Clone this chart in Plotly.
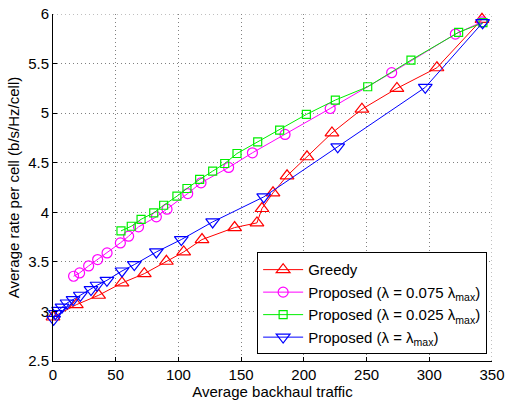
import plotly.graph_objects as go

# Greedy
greedy_x = [0, 18.6, 36.4, 55, 72.8, 90.4, 104.2, 118.8, 144.8, 162.6, 166.6, 175.4, 186.6, 202.5, 222.4, 246.3, 274.2, 306.1, 342]
greedy_y = [2.944, 3.068, 3.163, 3.287, 3.381, 3.506, 3.60, 3.725, 3.846, 3.893, 4.038, 4.196, 4.368, 4.56, 4.80, 5.04, 5.25, 5.458, 5.946]

# Proposed lambda = 0.075 lambda_max
p075_x = [16.4, 21.2, 28.4, 35.6, 43.1, 53.7, 60.3, 68.2, 82.4, 90.9, 107.4, 118, 140, 159, 185, 221, 270, 320.8, 342]
p075_y = [3.355, 3.388, 3.459, 3.523, 3.590, 3.691, 3.759, 3.853, 3.954, 4.031, 4.189, 4.297, 4.452, 4.60, 4.785, 5.047, 5.408, 5.798, 5.92]

# Proposed lambda = 0.025 lambda_max
p025_x = [54.2, 62.4, 70.2, 80.3, 88.2, 98.8, 106.8, 116.9, 127.3, 136.9, 146.7, 163.2, 180.7, 202, 225.1, 250.9, 285.4, 323.4, 342.8]
p025_y = [3.812, 3.859, 3.929, 3.994, 4.071, 4.162, 4.240, 4.331, 4.415, 4.492, 4.593, 4.711, 4.829, 4.987, 5.132, 5.266, 5.535, 5.815, 5.912]

# Proposed lambda = lambda_max
pmax_x = [0.5, 1.9, 4.5, 7.2, 11.2, 16, 21.8, 30.3, 35.1, 43, 55, 64.8, 82.4, 102.3, 127.3, 168, 227, 296.8, 342.5]
pmax_y = [2.92, 2.977, 3.011, 3.044, 3.085, 3.119, 3.163, 3.220, 3.264, 3.314, 3.408, 3.472, 3.600, 3.725, 3.903, 4.155, 4.66, 5.26, 5.912]

x_ticks = [0, 50, 100, 150, 200, 250, 300, 350]
y_ticks = [2.5, 3, 3.5, 4, 4.5, 5, 5.5, 6]
y_tick_text = ["2.5", "3", "3.5", "4", "4.5", "5", "5.5", "6"]

series = [
    ("Greedy", greedy_x, greedy_y, "#FF0000", "triangle-up-open", 12),
    ("Proposed (λ = 0.075 λ<sub>max</sub>)", p075_x, p075_y, "#FF00FF", "circle-open", 10),
    ("Proposed (λ = 0.025 λ<sub>max</sub>)", p025_x, p025_y, "#00EE00", "square-open", 8),
    ("Proposed (λ = λ<sub>max</sub>)", pmax_x, pmax_y, "#0000FF", "triangle-down-open", 12),
]

fig = go.Figure()
for name, xs, ys, col, sym, sz in series:
    fig.add_trace(go.Scatter(
        x=xs, y=ys, name=name, mode="lines+markers", cliponaxis=False,
        line=dict(color=col, width=1),
        marker=dict(symbol=sym, size=sz, color=col, line=dict(color=col, width=1.2)),
    ))

font = "Liberation Sans, Arial, Helvetica, sans-serif"
grid_col = "#808080"
grid_dash = "1px,3px"
grid = dict(showgrid=True, gridcolor=grid_col, griddash=grid_dash, gridwidth=1, zeroline=False)

# dotted grid lines at the far (top/right) edges, which plotly omits
fig.add_shape(type="line", xref="x", yref="paper", x0=x_ticks[-1], x1=x_ticks[-1], y0=0, y1=1,
              line=dict(color=grid_col, width=1, dash=grid_dash), layer="below")
fig.add_shape(type="line", xref="paper", yref="y", x0=0, x1=1, y0=y_ticks[-1], y1=y_ticks[-1],
              line=dict(color=grid_col, width=1, dash=grid_dash), layer="below")

fig.update_layout(
    width=505, height=405,
    margin=dict(l=53, r=13, t=14, b=44, autoexpand=False),
    paper_bgcolor="white", plot_bgcolor="white",
    font=dict(family=font, size=15, color="black"),
    showlegend=True,
    legend=dict(
        x=0.465, y=0.313, xanchor="left", yanchor="top",
        bgcolor="white", bordercolor="black", borderwidth=1,
        font=dict(size=15, family=font), tracegroupgap=0,
        itemwidth=40,
    ),
    xaxis=dict(
        range=[0, 350], tickvals=x_ticks, showline=True, linecolor="black", linewidth=1,
        mirror=False, ticks="inside", ticklen=4, tickcolor="black", automargin=False,
        ticklabeloverflow="allow",
        title=dict(text="Average backhaul traffic", font=dict(size=15), standoff=4),
        tickfont=dict(size=15), **grid,
    ),
    yaxis=dict(
        range=[2.5, 6], tickvals=y_ticks, ticktext=y_tick_text, showline=True, linecolor="black",
        linewidth=1, mirror=False, ticks="inside", ticklen=4, tickcolor="black", automargin=False,
        ticklabeloverflow="allow",
        title=dict(text="Average rate per cell (b/s/Hz/cell)", font=dict(size=15), standoff=4),
        tickfont=dict(size=15), **grid,
    ),
)

# remove the browser's default 8px page margin so the 505x405 figure fills the window
fig.write_html(
    "out.html",
    config={"displayModeBar": False},
    post_script="document.body.style.margin='0';document.body.style.overflow='hidden';",
)
